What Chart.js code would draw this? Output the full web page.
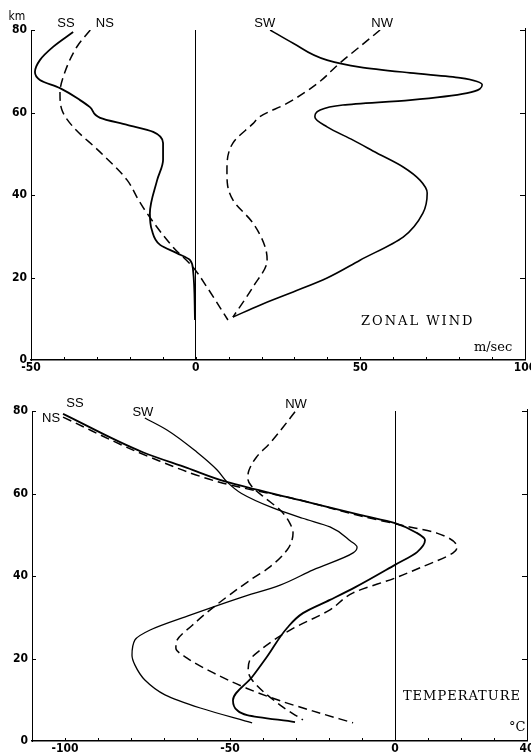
<!DOCTYPE html>
<html><head><meta charset="utf-8">
<script src="https://cdn.jsdelivr.net/npm/chart.js@4/dist/chart.umd.min.js"></script>
<style>
html,body{margin:0;padding:0;background:#fff;}
#wrap{position:relative;width:531px;height:753px;overflow:hidden;background:#fff;}
.box{position:absolute;left:0;width:531px;}
</style></head><body>
<div id="wrap">
<div class="box" style="top:0;height:378px"><canvas id="c1" width="531" height="378"></canvas></div>
<div class="box" style="top:378px;height:375px"><canvas id="c2" width="531" height="375"></canvas></div>
</div>
<script>
// ---------- ZONAL WIND (m/sec) vs altitude (km) ----------
const windAltSS = [79.5,75.9,72.7,69.8,67.9,65.9,63,61.3,58.7,57,55.3,52.6,48.5,43.6,35.6,31.5,27.9,25.9,24.2,21.8,9.7];
const windSS    = [-37.2,-43.3,-47.3,-48.8,-47.3,-41.2,-35.1,-32.1,-29,-20.8,-12.9,-9.9,-9.9,-11.7,-13.9,-13.3,-10.8,-5.7,-1.7,-0.8,-0.2];
const windAltNS = [80,76,69.8,64.7,60.6,56.5,50.4,43.6,39,35.6,27.4,22.5,17.7,9.7];
const windNS    = [-32,-36,-39.7,-41.2,-40.6,-37.2,-29,-20.8,-17.5,-14.8,-6.9,-0.8,3.4,9.8];
const windAltSW = [80,76.8,72.7,71,69.6,68.4,66.7,64.7,63,61.8,60.6,58.9,56.5,53.3,50.2,46.8,43.6,40.5,35.6,29.8,24.2,19.9,16.5,13.3,10.4];
const windSW    = [22.6,29.6,39.9,49.9,65.1,80.3,87,82.4,65.1,44.7,37.8,36.2,39.9,47.8,55,63,68.1,70.3,69,63,49.9,39.9,29.6,19.5,11.3];
const windAltNW = [80,76,72,67,62.2,59,57.3,52.6,46,43,38.8,33.2,27.4,24.2,17.7,10.4];
const windNW    = [56,49.9,43.8,36.9,27.7,19.5,17.4,11.3,9.5,9.6,11.3,17.4,21.1,21.7,17.4,11.3];
const windXTickLabels = [-50, 0, 50, 100];

// ---------- TEMPERATURE (°C) vs altitude (km) ----------
const tempAltSS = [79.3,70,66.2,62.8,58.4,54.8,52.8,50.5,48.7,45.8,42.7,37.3,34.2,31,27.4,20.4,15.5,9.9,7.5,6.3,4.6];
const tempSS    = [-100.6,-76.4,-63,-51,-28.8,-10.6,0,6.5,9.1,6.7,0,-12,-19.7,-27.9,-32.7,-38.8,-43.3,-49.1,-47.9,-44.8,-30.3];
const tempAltNS = [78.5,68.8,62.5,58.4,54.6,52.3,50.4,47,45.6,42,39.5,35.9,31.8,26.9,22,19.6,17.2,14.8,8.7,5.1];
const tempNS    = [-100.6,-74.2,-52.1,-28.8,-10.6,2.1,12.7,18.8,17.6,7.6,0,-12.7,-19.7,-31.8,-40.9,-44,-44.5,-43.3,-34.8,-27.9];
const tempAltSW = [78.3,75.4,70,65.7,62.8,60,56.5,54,51.9,48.5,47,45.6,41.5,37.8,34.7,30.5,26.9,24.5,20.8,18.4,14.8,11.2,8,4.4];
const tempSW    = [-75.8,-69.1,-60,-53.9,-50.9,-46.5,-37,-28,-19.7,-13.5,-11.5,-12.7,-24.8,-34.8,-47,-62.1,-74.2,-78.8,-79.7,-78.8,-75.8,-69.7,-59,-43.3];
const tempAltNW = [79.8,76,72.2,68.8,65.5,63.6,61.8,59,56,53,50.4,48,46.3,42.2,39,35.5,31.8,28,24.5,22.5,20.1,16.5,12.8,9.8,7.3,4.4];
const tempNW    = [-30.3,-34,-37.9,-42,-44.3,-44.6,-43.5,-39.5,-34.8,-32,-30.9,-31.5,-32.7,-37.9,-43.9,-50,-56,-61.5,-66,-66.4,-63,-55,-45,-35,-25,-12.7];
const tempXTickLabels = [-100, -50, 0, 40];

const altTicks = [0, 20, 40, 60, 80];

function pts(vals, alts){ return vals.map((v,i)=>({x:v, y:alts[i]})); }

const TICKFONT = {family:"'DejaVu Sans Condensed','Liberation Sans Narrow',sans-serif", size:12, weight:'bold'};

const framePlugin = {
  id:'frame',
  afterDraw(chart, args, o){
    const {ctx, chartArea:a, scales:{x,y}} = chart;
    ctx.save();
    ctx.strokeStyle='#000'; ctx.fillStyle='#000'; ctx.lineWidth=1;
    // right border
    ctx.beginPath(); ctx.moveTo(a.right+0.5, a.top-2); ctx.lineTo(a.right+0.5, a.bottom); ctx.stroke();
    // inward altitude ticks on both sides
    altTicks.forEach(v=>{
      const py = Math.round(y.getPixelForValue(v))+0.5;
      if (v>0){
        ctx.beginPath(); ctx.moveTo(a.left, py); ctx.lineTo(a.left+4, py); ctx.stroke();
        ctx.beginPath(); ctx.moveTo(a.right, py); ctx.lineTo(a.right-5, py); ctx.stroke();
      }
    });
    // inward minor ticks on the bottom axis
    for (let v = Math.ceil(x.min/10)*10; v <= x.max; v += 10){
      const px = Math.round(x.getPixelForValue(v))+0.5;
      ctx.beginPath(); ctx.moveTo(px, a.bottom); ctx.lineTo(px, a.bottom-3); ctx.stroke();
    }
    // labels
    (o.labels||[]).forEach(l=>{
      ctx.font = l.font;
      ctx.textAlign = l.align||'center';
      ctx.textBaseline = 'middle';
      if ('letterSpacing' in ctx) ctx.letterSpacing = l.spacing||'0px';
      ctx.fillText(l.text, x.getPixelForValue(l.x), y.getPixelForValue(l.y));
    });
    ctx.restore();
  }
};

function makeChart(id, sets, xmin, xmax, xLabels, yWidth, xHeight, pad, labels){
  const ds = sets.map(s=>({
    data: pts(s.vals, s.alts),
    borderColor:'#000',
    borderWidth: s.w,
    borderDash: s.dash ? [9,5] : [],
    pointRadius:0,
    fill:false,
    cubicInterpolationMode:'monotone'
  }));
  return new Chart(document.getElementById(id), {
    type:'line',
    data:{datasets: ds},
    options:{
      indexAxis:'y',
      responsive:false,
      animation:false,
      devicePixelRatio:1,
      layout:{padding:pad},
      plugins:{legend:{display:false}, tooltip:{enabled:false}, frame:{labels}},
      scales:{
        x:{
          type:'linear', position:'bottom', min:xmin, max:xmax,
          afterBuildTicks(s){ const t=[]; for(let v=xmin; v<=xmax; v+=10) t.push({value:v}); s.ticks=t; },
          ticks:{autoSkip:false, maxRotation:0, color:'#000', font:TICKFONT, padding:1,
                 callback:(v)=> xLabels.includes(v) ? String(v) : ''},
          grid:{drawTicks:false, color:(c)=> (c.tick && c.tick.value===0) ? '#000' : 'rgba(0,0,0,0)', lineWidth:1},
          border:{display:true, color:'#000', width:1.5},
          afterFit(s){ s.height = xHeight; s.paddingLeft=0; s.paddingRight=0; }
        },
        y:{
          type:'linear', position:'left', min:0, max:80,
          afterBuildTicks(s){ s.ticks = altTicks.map(v=>({value:v})); },
          ticks:{color:'#000', font:TICKFONT, padding:4},
          grid:{display:false, drawTicks:false},
          border:{display:true, color:'#000', width:1},
          afterFit(s){ s.width = yWidth; s.paddingTop=0; s.paddingBottom=0; }
        }
      }
    },
    plugins:[framePlugin]
  });
}

const SANS = "13px 'Liberation Sans', Arial, sans-serif";
const SERIF = "13px 'DejaVu Serif', 'Liberation Serif', serif";

makeChart('c1', [
  {vals:windSS, alts:windAltSS, w:1.8, dash:false},
  {vals:windNS, alts:windAltNS, w:1.5, dash:true},
  {vals:windSW, alts:windAltSW, w:1.6, dash:false},
  {vals:windNW, alts:windAltNW, w:1.5, dash:true}
], -50, 100, windXTickLabels, 31, 18, {top:30, right:6, left:0, bottom:0}, [
  {text:'km', x:-54.3, y:83.3, font:"12px 'DejaVu Sans Condensed', sans-serif"},
  {text:'SS', x:-39.4, y:81.5, font:SANS},
  {text:'NS', x:-27.6, y:81.5, font:SANS},
  {text:'SW', x:21.0, y:81.5, font:SANS},
  {text:'NW', x:56.6, y:81.5, font:SANS},
  {text:'ZONAL WIND', x:50.2, y:9.2, font:SERIF, align:'left', spacing:'2px'},
  {text:'m/sec', x:90.3, y:2.9, font:SERIF, align:'center'}
]);

makeChart('c2', [
  {vals:tempSS, alts:tempAltSS, w:1.8, dash:false},
  {vals:tempNS, alts:tempAltNS, w:1.5, dash:true},
  {vals:tempSW, alts:tempAltSW, w:1.3, dash:false},
  {vals:tempNW, alts:tempAltNW, w:1.5, dash:true}
], -110, 40, tempXTickLabels, 32, 12, {top:33, right:4, left:0, bottom:0}, [
  {text:'SS', x:-97, y:81.8, font:SANS},
  {text:'NS', x:-104.2, y:78.3, font:SANS},
  {text:'SW', x:-76.4, y:79.6, font:SANS},
  {text:'NW', x:-30, y:81.6, font:SANS},
  {text:'TEMPERATURE', x:2.4, y:10.7, font:SERIF, align:'left', spacing:'1px'},
  {text:'°C', x:37, y:3.2, font:SERIF, align:'center'}
]);
</script>
</body></html>
